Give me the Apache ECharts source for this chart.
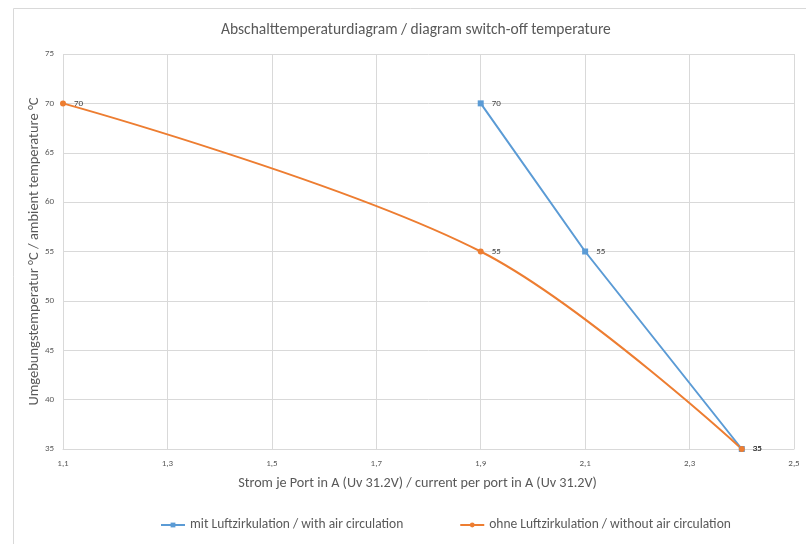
<!DOCTYPE html>
<html><head><meta charset="utf-8">
<script src="https://cdn.jsdelivr.net/npm/echarts@6/dist/echarts.min.js"></script>
<style>html,body{margin:0;padding:0;background:#fff}#c{width:806px;height:544px}</style>
</head><body><div id="c"></div>
<script>
const withAirX = [1.9, 2.1, 2.4];
const withAirY = [70, 55, 35];
const withoutAirX = [1.1, 1.9, 2.4];
const withoutAirY = [70, 55, 35];
const seriesNames = ['mit Luftzirkulation / with air circulation', 'ohne Luftzirkulation / without air circulation'];
const titleText = 'Abschalttemperaturdiagram / diagram switch-off temperature';
const xName = 'Strom je Port in A (Uv 31.2V) / current per port in A (Uv 31.2V)';
const yName = 'Umgebungstemperatur °C / ambient temperature °C';

const chart = echarts.init(document.getElementById('c'));
const font = 'Calibri, Carlito, "Open Sans", sans-serif';
const pair = (xs, ys) => xs.map((x, i) => [x, ys[i]]);
chart.setOption({
  animation: false,
  textStyle: { fontFamily: font },
  graphic: [{ type: 'rect', shape: { x: 13.5, y: 8.5, width: 800, height: 600 }, style: { fill: 'none', stroke: '#d9d9d9', lineWidth: 1 } }],
  title: { text: titleText, left: 216, top: 17, textStyle: { fontSize: 15.5, fontWeight: 'normal', color: '#595959', fontFamily: font } },
  grid: { left: 63, right: 12, top: 54, bottom: 95 },
  legend: {
    left: 155, bottom: 7, itemGap: 56, itemWidth: 24, itemHeight: 6,
    textStyle: { fontSize: 13.5, color: '#595959' },
    data: seriesNames
  },
  xAxis: {
    type: 'value', min: 1.1, max: 2.5, interval: 0.2,
    name: xName, nameLocation: 'middle', nameGap: 27, nameMoveOverlap: false,
    nameTextStyle: { fontSize: 14.2, color: '#595959', padding: [0, 22, 0, 0] },
    axisLine: { show: true, lineStyle: { color: '#d9d9d9' } },
    axisTick: { show: false },
    splitLine: { show: true, lineStyle: { color: '#d9d9d9' } },
    axisLabel: { fontSize: 9, color: '#595959', margin: 10, formatter: v => v.toFixed(1).replace('.', ',') }
  },
  yAxis: {
    type: 'value', min: 35, max: 75, interval: 5,
    name: yName, nameLocation: 'middle', nameGap: 21, nameRotate: 90, nameMoveOverlap: false,
    nameTextStyle: { fontSize: 14.5, color: '#595959' },
    axisLine: { show: false }, axisTick: { show: false },
    splitLine: { show: true, lineStyle: { color: '#d9d9d9' } },
    axisLabel: { fontSize: 9, color: '#595959', margin: 9 }
  },
  series: [
    {
      name: seriesNames[0], type: 'line', data: pair(withAirX, withAirY),
      symbol: 'rect', symbolSize: 6,
      lineStyle: { color: '#5B9BD5', width: 2 }, itemStyle: { color: '#5B9BD5' },
      label: { show: true, position: 'right', distance: 8, fontSize: 9, color: '#404040' }
    },
    {
      name: seriesNames[1], type: 'line', data: pair(withoutAirX, withoutAirY),
      symbol: 'circle', symbolSize: 6, smooth: 0.35,
      lineStyle: { color: '#ED7D31', width: 2 }, itemStyle: { color: '#ED7D31' },
      label: { show: true, position: 'right', distance: 8, fontSize: 9, color: '#404040' }
    }
  ]
});
</script></body></html>
